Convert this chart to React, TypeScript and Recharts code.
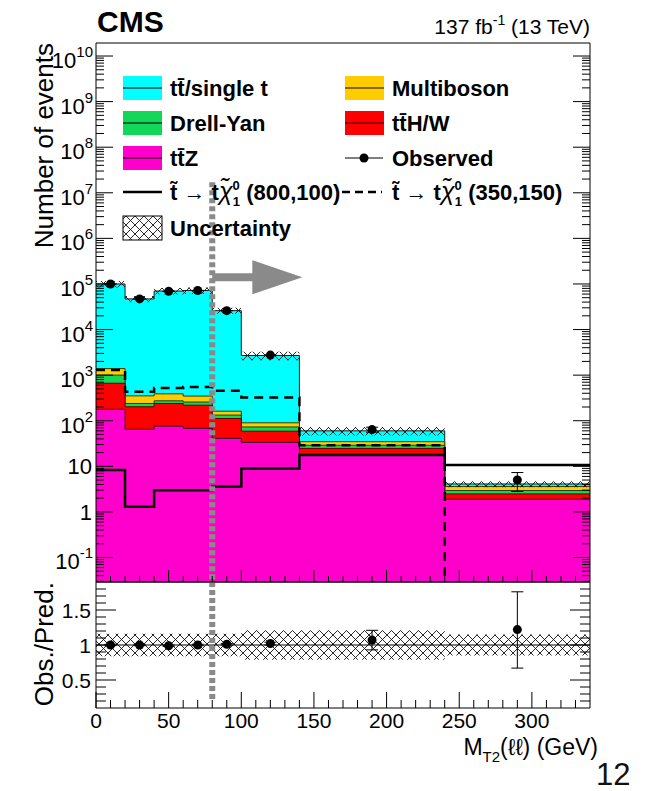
import { Area, ComposedChart, ErrorBar, Line, ReferenceLine, Scatter, XAxis, YAxis } from "recharts";

// bins in M_T2(ll) (GeV)
const binEdges = [0, 20, 40, 60, 80, 100, 140, 240, 340];
const binCenters = [10, 30, 50, 70, 90, 120, 190, 290];

// backgrounds, events per bin
const ttbar = [98600, 46650, 69600, 71650, 25840, 2610, 25.3, 0.5];
const multiboson = [390, 112, 116, 90, 29, 17, 5.7, 0.66];
const drellYan = [336, 37, 34, 38, 21, 14, 4.3, 0.46];
const ttHW = [486, 137, 163, 151, 71, 25.5, 7.0, 0.58];
const ttZ = [178, 65, 76, 68, 41, 33.5, 17.7, 1.9];
const relUnc = [0.16, 0.16, 0.16, 0.16, 0.16, 0.21, 0.21, 0.15];

// signals
const sig800 = [8.3, 1.3, 3.0, 3.0, 3.6, 9.0, 17.7, 10.7];
const sig350 = [1290, 434, 525, 550, 452, 323, 29, 0.01];

// data
const observed = [100000, 47000, 69000, 72000, 26000, 2750, 64, 5];
const obsErrLow = [316, 217, 263, 268, 161, 52, 8, 2.2];
const obsErrHigh = [316, 217, 263, 268, 161, 52, 8, 2.3];

// ratio panel
const ratio = [1.0, 1.0, 0.99, 1.0, 1.01, 1.02, 1.07, 1.22];
const ratioErrLow = [0.01, 0.01, 0.01, 0.01, 0.01, 0.02, 0.14, 0.55];
const ratioErrHigh = [0.01, 0.01, 0.01, 0.01, 0.01, 0.02, 0.14, 0.54];

const C = { tt: "#00ffff", mb: "#ffcc00", dy: "#12d85a", tth: "#ff0000", ttz: "#ff00cc" };
const FONT = "'Liberation Sans', Arial, sans-serif";
const Y_MIN = 0.029;
const Y_MAX = 1.93e10;

const last = binEdges.length - 2;
const histRows = binEdges.map((x, i) => {
    const b = Math.min(i, last);
    const z = ttZ[b];
    const h = z + ttHW[b];
    const d = h + drellYan[b];
    const m = d + multiboson[b];
    const tot = m + ttbar[b];
    return { x, ttz: z, tth: h, dy: d, mb: m, total: tot, band: [tot * (1 - relUnc[b]), tot * (1 + relUnc[b])], sig800: sig800[b], sig350: sig350[b] };
});
const ratioRows = binEdges.map((x, i) => {
    const b = Math.min(i, last);
    return { x, band: [1 - relUnc[b], 1 + relUnc[b]] };
});
const obsPoints = binCenters.map((x, i) => ({ x, obs: observed[i], err: [obsErrLow[i], obsErrHigh[i]] }));
const ratioPoints = binCenters.map((x, i) => ({ x, r: ratio[i], err: [ratioErrLow[i], ratioErrHigh[i]] }));

const xTicks = Array.from({ length: 33 }, (_, i) => (i + 1) * 10);
const logTicks: number[] = [];
for (let e = -2; e <= 10; e++) for (let m = 1; m <= 9; m++) {
    const v = m * Math.pow(10, e);
    if (v > Y_MIN && v < Y_MAX) logTicks.push(v);
}
const ratioTicks = Array.from({ length: 17 }, (_, i) => (i + 2) / 10);

const xTick = (side: "bottom" | "top", major: number, minor: number, labels: boolean) => (p: any) => {
    const v = Number(p.payload.value);
    const isMajor = v % 50 === 0;
    const dir = side === "bottom" ? -1 : 1;
    return <g>
        <line x1={p.x} x2={p.x} y1={p.y} y2={p.y + dir * (isMajor ? major : minor)} stroke="#000" />
        {labels && isMajor && v <= 300 && <text x={p.x} y={p.y + 20} textAnchor="middle" fontSize={21} fontFamily={FONT}>{v}</text>}
    </g>;
};

const logTick = (side: "left" | "right") => (p: any) => {
    const v = Number(p.payload.value);
    const e = Math.floor(Math.log10(v) + 1e-9);
    const isMajor = Math.round(v / Math.pow(10, e)) === 1;
    const dir = side === "left" ? 1 : -1;
    let label = null;
    if (side === "left" && isMajor) {
        if (e === 0 || e === 1) label = <text x={p.x - 4} y={p.y + 8} textAnchor="end" fontSize={22} fontFamily={FONT}>{e === 0 ? "1" : "10"}</text>;
        else label = <text x={p.x - 3} y={p.y + 12} textAnchor="end" fontSize={22} fontFamily={FONT}>10<tspan dy={-11} fontSize={15}>{e}</tspan></text>;
    }
    return <g>
        <line x1={p.x} x2={p.x + dir * (isMajor ? 17 : 8)} y1={p.y} y2={p.y} stroke="#000" />
        {label}
    </g>;
};

const ratioTick = (side: "left" | "right") => (p: any) => {
    const v = Number(p.payload.value);
    const isMajor = Math.round(v * 10) % 5 === 0;
    const dir = side === "left" ? 1 : -1;
    return <g>
        <line x1={p.x} x2={p.x + dir * (isMajor ? 20 : 10)} y1={p.y} y2={p.y} stroke="#000" />
        {side === "left" && isMajor && <text x={p.x - 5} y={p.y + 8} textAnchor="end" fontSize={21} fontFamily={FONT}>{String(Math.round(v * 10) / 10)}</text>}
    </g>;
};

const Arrow = (p: any) => {
    const { x1, y1, x2 } = p;
    const hx = x2 - 50;
    return <polygon points={`${x1},${y1 - 4} ${hx},${y1 - 4} ${hx},${y1 - 17} ${x2},${y1} ${hx},${y1 + 17} ${hx},${y1 + 4} ${x1},${y1 + 4}`} fill="#8a8a8a" />;
};

const dot = (p: any) => <circle cx={p.cx} cy={p.cy} r={4.5} fill="#000" />;

const Hatch = ({ id }: { id: string }) => <defs>
    <pattern id={id} width={9} height={9} patternUnits="userSpaceOnUse">
        <path d="M0,0 L9,9 M9,0 L0,9" stroke="#111" strokeWidth={0.9} />
    </pattern>
</defs>;

const frame = { stroke: "#000", strokeWidth: 1 };

const legendBoxes = [
    { x: 123, y: 88, fill: C.tt, line: "#1b4a4a", label: "tt\u0304/single t" },
    { x: 345, y: 88, fill: C.mb, line: "#5a4a00", label: "Multiboson" },
    { x: 123, y: 123, fill: C.dy, line: "#1d3a22", label: "Drell-Yan" },
    { x: 345, y: 123, fill: C.tth, line: "#7a0000", label: "tt\u0304H/W" },
    { x: 123, y: 158, fill: C.ttz, line: "#5a0040", label: "tt\u0304Z" },
];

const SigLabel = ({ x, y, masses }: { x: number; y: number; masses: string }) => <text x={x} y={y} fontSize={22} fontWeight="bold" fontFamily={FONT}>
    {"t\u0303"}<tspan fontWeight="normal">{" \u2192 "}</tspan>{"t"}<tspan fontStyle="italic" fontWeight="normal" fontSize={25}>{"\u03c7\u0303"}</tspan>
    <tspan fontSize={13} dy={-10}>0</tspan><tspan fontSize={13} dx={-7} dy={16}>1</tspan><tspan dy={-6}>{` (${masses})`}</tspan>
</text>;

const Overlay = () => <svg width={651} height={791} style={{ position: "absolute", left: 0, top: 0, pointerEvents: "none" }} fontFamily={FONT}>
    <Hatch id="hatchLeg" />
    <text x={97} y={32} fontSize={30} fontWeight="bold">CMS</text>
    <text x={590} y={34} fontSize={21} textAnchor="end">137 fb<tspan dy={-9} fontSize={14}>-1</tspan><tspan dy={9}> (13 TeV)</tspan></text>
    <text transform="translate(53,43) rotate(-90)" textAnchor="end" fontSize={26}>Number of events</text>
    <text transform="translate(53,582) rotate(-90)" textAnchor="end" fontSize={26}>Obs./Pred.</text>
    <text x={598} y={755} textAnchor="end" fontSize={23}>M<tspan fontSize={15} dy={7}>T2</tspan><tspan dy={-7}>{"(\u2113\u2113) (GeV)"}</tspan></text>
    <text x={596} y={785} fontSize={31} fill="#111">12</text>

    {legendBoxes.map((b) => <g key={b.label}>
        <rect x={b.x} y={b.y - 12} width={39} height={24} fill={b.fill} />
        <line x1={b.x} x2={b.x + 39} y1={b.y} y2={b.y} stroke={b.line} strokeWidth={1.5} />
        <text x={b.x + 47} y={b.y + 8} fontSize={22} fontWeight="bold">{b.label}</text>
    </g>)}
    <line x1={345} x2={383} y1={158} y2={158} stroke="#000" strokeWidth={1.2} />
    <circle cx={364} cy={158} r={4.5} fill="#000" />
    <text x={392} y={166} fontSize={22} fontWeight="bold">Observed</text>
    <line x1={123} x2={162} y1={192} y2={192} stroke="#000" strokeWidth={2.5} />
    <SigLabel x={170} y={200} masses="800,100" />
    <line x1={342} x2={382} y1={192} y2={192} stroke="#000" strokeWidth={2.5} strokeDasharray="8 5" />
    <SigLabel x={392} y={200} masses="350,150" />
    <rect x={123} y={216} width={39} height={24} fill="url(#hatchLeg)" stroke="#000" />
    <text x={170} y={236} fontSize={22} fontWeight="bold">Uncertainty</text>
</svg>;

const App = () => <div style={{ position: "absolute", left: 0, top: 0, width: 651, height: 791, background: "#fff", fontFamily: FONT }}>
    <div style={{ position: "absolute", left: 0, top: 0 }}>
        <ComposedChart width={651} height={583} data={histRows} margin={{ top: 42, right: 60, bottom: 0, left: 95 }}>
            <Hatch id="hatchMain" />
            <XAxis dataKey="x" type="number" domain={[0, 340]} allowDataOverflow ticks={xTicks} interval={0} height={1} tickSize={0} tickMargin={0} axisLine={frame} tickLine={false} tick={xTick("bottom", 12, 6, false)} />
            <XAxis xAxisId="top" orientation="top" type="number" domain={[0, 340]} allowDataOverflow ticks={xTicks} interval={0} height={1} tickSize={0} tickMargin={0} axisLine={frame} tickLine={false} tick={xTick("top", 12, 6, false)} />
            <YAxis scale="log" type="number" domain={[Y_MIN, Y_MAX]} allowDataOverflow ticks={logTicks} interval={0} width={1} tickSize={0} tickMargin={0} axisLine={frame} tickLine={false} tick={logTick("left")} />
            <YAxis yAxisId="right" orientation="right" scale="log" type="number" domain={[Y_MIN, Y_MAX]} allowDataOverflow ticks={logTicks} interval={0} width={1} tickSize={0} tickMargin={0} axisLine={frame} tickLine={false} tick={logTick("right")} />
            <Area type="stepAfter" dataKey="total" baseValue="dataMin" fill={C.tt} fillOpacity={1} stroke="#1a1a1a" strokeWidth={1} isAnimationActive={false} dot={false} activeDot={false} />
            <Area type="stepAfter" dataKey="mb" baseValue="dataMin" fill={C.mb} fillOpacity={1} stroke="#3a3a00" strokeWidth={1} isAnimationActive={false} dot={false} activeDot={false} />
            <Area type="stepAfter" dataKey="dy" baseValue="dataMin" fill={C.dy} fillOpacity={1} stroke="#1d3a22" strokeWidth={1} isAnimationActive={false} dot={false} activeDot={false} />
            <Area type="stepAfter" dataKey="tth" baseValue="dataMin" fill={C.tth} fillOpacity={1} stroke="#600000" strokeWidth={1} isAnimationActive={false} dot={false} activeDot={false} />
            <Area type="stepAfter" dataKey="ttz" baseValue="dataMin" fill={C.ttz} fillOpacity={1} stroke="#3a0030" strokeWidth={1} isAnimationActive={false} dot={false} activeDot={false} />
            <Area type="stepAfter" dataKey="band" fill="url(#hatchMain)" fillOpacity={1} stroke="none" isAnimationActive={false} dot={false} activeDot={false} />
            <Line type="stepAfter" dataKey="sig350" stroke="#000" strokeWidth={2.5} strokeDasharray="9 6" dot={false} activeDot={false} isAnimationActive={false} />
            <Line type="stepAfter" dataKey="sig800" stroke="#000" strokeWidth={2.5} dot={false} activeDot={false} isAnimationActive={false} />
            <Scatter data={obsPoints} dataKey="obs" shape={dot} isAnimationActive={false}>
                <ErrorBar dataKey="err" direction="y" width={6} stroke="#000" strokeWidth={1} isAnimationActive={false} />
            </Scatter>
            <ReferenceLine segment={[{ x: 80, y: 1.7e7 }, { x: 80, y: Y_MIN }]} stroke="#8a8a8a" strokeWidth={6} strokeDasharray="5 3" />
            <ReferenceLine segment={[{ x: 80, y: 1.4e5 }, { x: 142, y: 1.4e5 }]} shape={Arrow} />
        </ComposedChart>
    </div>
    <div style={{ position: "absolute", left: 0, top: 572 }}>
        <ComposedChart width={651} height={219} data={ratioRows} margin={{ top: 9, right: 60, bottom: 82, left: 95 }}>
            <Hatch id="hatchRatio" />
            <XAxis dataKey="x" type="number" domain={[0, 340]} allowDataOverflow ticks={[0, ...xTicks]} interval={0} height={1} tickSize={0} tickMargin={0} axisLine={frame} tickLine={false} tick={xTick("bottom", 16, 8, true)} />
            <XAxis xAxisId="top" orientation="top" type="number" domain={[0, 340]} allowDataOverflow ticks={xTicks} interval={0} height={1} tickSize={0} tickMargin={0} axisLine={frame} tickLine={false} tick={xTick("top", 16, 8, false)} />
            <YAxis type="number" domain={[0.1, 1.9]} allowDataOverflow ticks={ratioTicks} interval={0} width={1} tickSize={0} tickMargin={0} axisLine={frame} tickLine={false} tick={ratioTick("left")} />
            <YAxis yAxisId="right" orientation="right" type="number" domain={[0.1, 1.9]} allowDataOverflow ticks={ratioTicks} interval={0} width={1} tickSize={0} tickMargin={0} axisLine={frame} tickLine={false} tick={ratioTick("right")} />
            <Area type="stepAfter" dataKey="band" fill="url(#hatchRatio)" fillOpacity={1} stroke="none" isAnimationActive={false} dot={false} activeDot={false} />
            <ReferenceLine y={1} stroke="#000" strokeWidth={1} />
            <Scatter data={ratioPoints} dataKey="r" shape={dot} isAnimationActive={false}>
                <ErrorBar dataKey="err" direction="y" width={6} stroke="#000" strokeWidth={1} isAnimationActive={false} />
            </Scatter>
            <ReferenceLine segment={[{ x: 80, y: 1.9 }, { x: 80, y: 0.2 }]} stroke="#8a8a8a" strokeWidth={6} strokeDasharray="5 3" />
        </ComposedChart>
    </div>
    <Overlay />
</div>;

export default App;
